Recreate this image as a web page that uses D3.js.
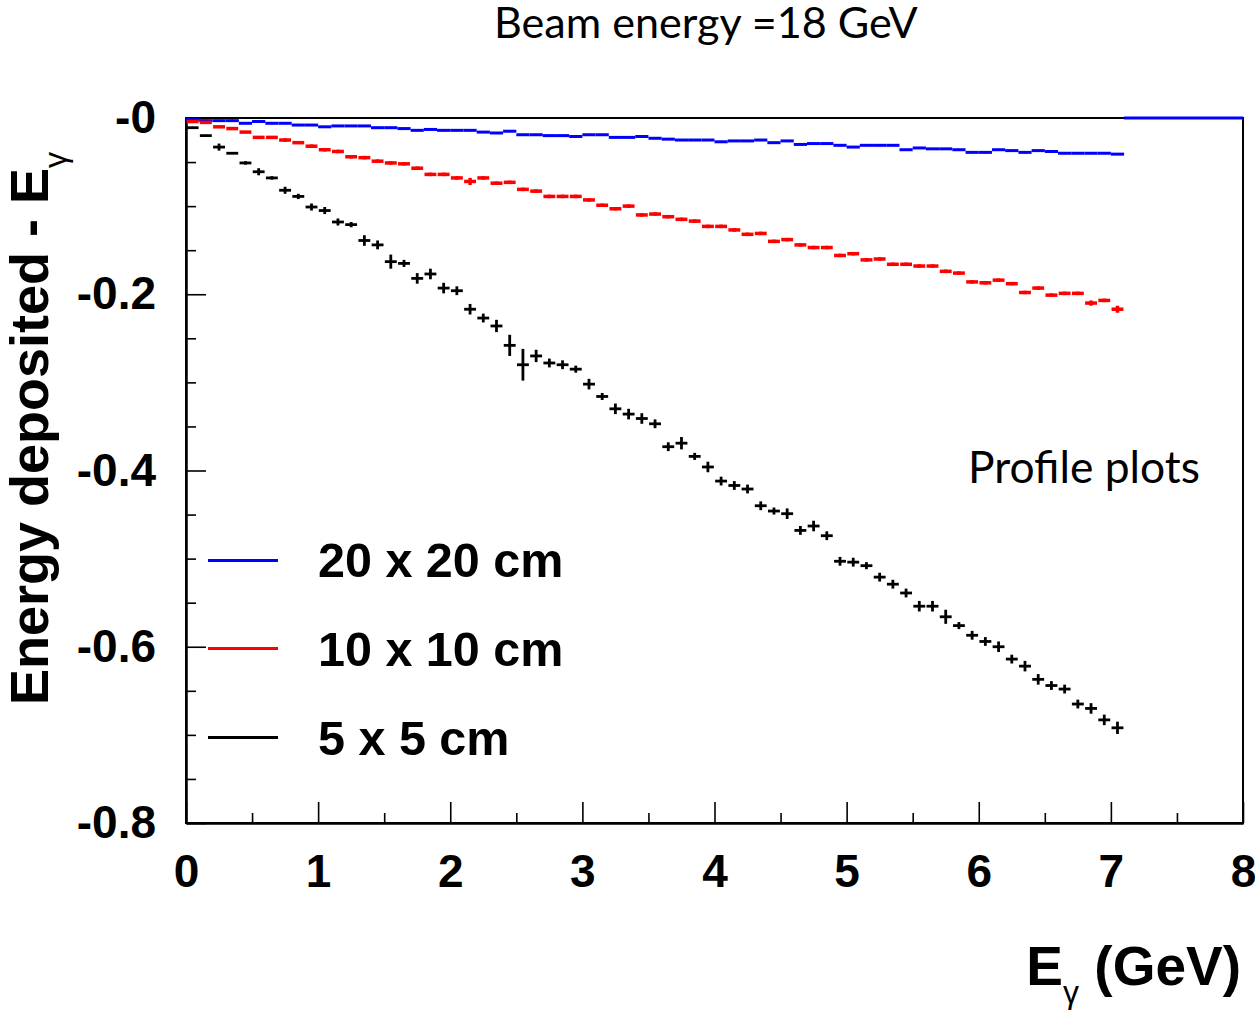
<!DOCTYPE html>
<html>
<head>
<meta charset="utf-8">
<script src="https://cdn.jsdelivr.net/npm/d3@7"></script>
<style>
  body { margin: 0; background: #fff; }
  svg { display: block; }
</style>
</head>
<body>
<div id="chart"></div>
<script>
// bin centres (GeV)
const energyBins = [0.05, 0.15, 0.25, 0.35, 0.45, 0.55, 0.65, 0.75, 0.85, 0.95,
  1.05, 1.15, 1.25, 1.35, 1.45, 1.55, 1.65, 1.75, 1.85, 1.95,
  2.05, 2.15, 2.25, 2.35, 2.45, 2.55, 2.65, 2.75, 2.85, 2.95,
  3.05, 3.15, 3.25, 3.35, 3.45, 3.55, 3.65, 3.75, 3.85, 3.95,
  4.05, 4.15, 4.25, 4.35, 4.45, 4.55, 4.65, 4.75, 4.85, 4.95,
  5.05, 5.15, 5.25, 5.35, 5.45, 5.55, 5.65, 5.75, 5.85, 5.95,
  6.05, 6.15, 6.25, 6.35, 6.45, 6.55, 6.65, 6.75, 6.85, 6.95, 7.05];

// 20 x 20 cm
const blueValues = [-0.002, -0.003, -0.003, -0.003, -0.006, -0.004, -0.006, -0.006, -0.008, -0.008,
  -0.010, -0.009, -0.009, -0.009, -0.011, -0.011, -0.012, -0.014, -0.013, -0.014,
  -0.014, -0.014, -0.016, -0.017, -0.015, -0.019, -0.019, -0.020, -0.020, -0.021,
  -0.019, -0.019, -0.022, -0.022, -0.021, -0.023, -0.024, -0.025, -0.025, -0.025,
  -0.027, -0.026, -0.026, -0.025, -0.028, -0.026, -0.030, -0.029, -0.029, -0.031,
  -0.033, -0.031, -0.031, -0.031, -0.036, -0.034, -0.035, -0.035, -0.036, -0.039,
  -0.039, -0.036, -0.037, -0.039, -0.037, -0.038, -0.040, -0.040, -0.040, -0.040, -0.041];

// 10 x 10 cm
const redValues = [-0.004, -0.005, -0.010, -0.012, -0.016, -0.022, -0.022, -0.025, -0.028, -0.032,
  -0.036, -0.038, -0.044, -0.045, -0.049, -0.051, -0.052, -0.057, -0.064, -0.064,
  -0.068, -0.072, -0.068, -0.074, -0.073, -0.081, -0.083, -0.089, -0.089, -0.089,
  -0.093, -0.099, -0.103, -0.100, -0.110, -0.109, -0.112, -0.115, -0.117, -0.123,
  -0.123, -0.127, -0.132, -0.131, -0.140, -0.138, -0.144, -0.147, -0.147, -0.156,
  -0.154, -0.161, -0.160, -0.166, -0.166, -0.168, -0.168, -0.174, -0.176, -0.186,
  -0.187, -0.184, -0.188, -0.198, -0.193, -0.201, -0.199, -0.199, -0.210, -0.207, -0.217];
const redErrors = [0.001, 0.001, 0.001, 0.001, 0.001, 0.001, 0.001, 0.002, 0.001, 0.002,
  0.002, 0.002, 0.002, 0.002, 0.002, 0.002, 0.002, 0.002, 0.002, 0.002,
  0.002, 0.004, 0.002, 0.002, 0.002, 0.002, 0.002, 0.002, 0.002, 0.002,
  0.002, 0.002, 0.002, 0.002, 0.002, 0.002, 0.002, 0.002, 0.002, 0.002,
  0.002, 0.002, 0.002, 0.002, 0.002, 0.002, 0.002, 0.002, 0.002, 0.002,
  0.002, 0.002, 0.002, 0.002, 0.002, 0.002, 0.002, 0.002, 0.002, 0.002,
  0.002, 0.002, 0.002, 0.002, 0.002, 0.002, 0.002, 0.002, 0.003, 0.002, 0.004];

// 5 x 5 cm
const blackValues = [-0.011, -0.020, -0.033, -0.040, -0.051, -0.061, -0.068, -0.082, -0.089, -0.101,
  -0.105, -0.118, -0.121, -0.139, -0.144, -0.163, -0.165, -0.182, -0.177, -0.193,
  -0.196, -0.217, -0.227, -0.236, -0.258, -0.280, -0.270, -0.278, -0.280, -0.285,
  -0.302, -0.316, -0.330, -0.336, -0.341, -0.347, -0.373, -0.369, -0.384, -0.396,
  -0.412, -0.417, -0.421, -0.440, -0.446, -0.449, -0.468, -0.463, -0.474, -0.503,
  -0.504, -0.508, -0.521, -0.529, -0.539, -0.554, -0.554, -0.566, -0.576, -0.587,
  -0.594, -0.600, -0.614, -0.622, -0.637, -0.644, -0.648, -0.665, -0.670, -0.683, -0.692];
const blackErrors = [0.001, 0.001, 0.004, 0.001, 0.002, 0.004, 0.002, 0.004, 0.003, 0.004,
  0.004, 0.004, 0.003, 0.006, 0.005, 0.008, 0.004, 0.006, 0.006, 0.006,
  0.005, 0.006, 0.005, 0.007, 0.012, 0.018, 0.007, 0.005, 0.005, 0.004,
  0.006, 0.004, 0.006, 0.006, 0.006, 0.005, 0.005, 0.007, 0.004, 0.006,
  0.005, 0.005, 0.005, 0.005, 0.004, 0.006, 0.005, 0.006, 0.005, 0.005,
  0.005, 0.004, 0.005, 0.005, 0.005, 0.006, 0.006, 0.008, 0.004, 0.005,
  0.005, 0.006, 0.005, 0.006, 0.006, 0.005, 0.005, 0.005, 0.006, 0.006, 0.007];

const legendLabels = ["20 x 20 cm", "10 x 10 cm", "5 x 5 cm"];
const xMajorTicks = [0, 1, 2, 3, 4, 5, 6, 7, 8];
const yMajorTicks = [0, -0.2, -0.4, -0.6, -0.8];

const W = 1255, H = 1011;
const BOLD = "'Liberation Sans', Arial, Helvetica, sans-serif";
const LIGHT = "Lato, 'Open Sans', sans-serif";

const svg = d3.select("#chart").append("svg")
  .attr("width", W)
  .attr("height", H);

const x = d3.scaleLinear().domain([0, 8]).range([186, 1243]);
const y = d3.scaleLinear().domain([-0.8, 0]).range([823, 118]);

// frame
svg.append("rect")
  .attr("x", x(0)).attr("y", y(0))
  .attr("width", x(8) - x(0)).attr("height", y(-0.8) - y(0))
  .attr("fill", "none").attr("stroke", "#000").attr("stroke-width", 2);

// x axis
svg.append("g").attr("transform", `translate(0,${y(-0.8)})`)
  .call(d3.axisBottom(x).tickValues(xMajorTicks).tickSize(-21).tickSizeOuter(0).tickPadding(31)
    .tickFormat(d3.format("d")));
svg.append("g").attr("transform", `translate(0,${y(-0.8)})`)
  .call(d3.axisBottom(x).tickValues(d3.range(0.5, 8, 1)).tickSize(-10).tickSizeOuter(0).tickFormat(""));

// y axis
const fmtY = d => d === 0 ? "-0" : d3.format(".1f")(d).replace("\u2212", "-");
svg.append("g").attr("transform", `translate(${x(0)},0)`)
  .call(d3.axisLeft(y).tickValues(yMajorTicks).tickSize(-20).tickSizeOuter(0).tickPadding(30)
    .tickFormat(fmtY));
svg.append("g").attr("transform", `translate(${x(0)},0)`)
  .call(d3.axisLeft(y).tickValues([-0.05, -0.1, -0.15, -0.25, -0.3, -0.35, -0.45, -0.5, -0.55, -0.65, -0.7, -0.75])
    .tickSize(-10).tickSizeOuter(0).tickFormat(""));

svg.selectAll(".domain").attr("stroke-width", 2);
svg.selectAll(".tick line").attr("stroke-width", 1.6);
svg.selectAll(".tick text")
  .attr("font-family", BOLD).attr("font-weight", "bold").attr("font-size", 46).attr("fill", "#000");

// profile points
function drawProfile(values, errors, color, halfWidth, strokeW) {
  const g = svg.append("g").attr("stroke", color).attr("stroke-width", strokeW);
  const pts = energyBins.map((e, i) => ({ e, v: values[i], err: errors ? errors[i] : 0.001 }));
  g.selectAll(".h").data(pts).join("line")
    .attr("x1", d => x(d.e - halfWidth)).attr("x2", d => x(d.e + halfWidth))
    .attr("y1", d => y(d.v)).attr("y2", d => y(d.v));
  g.selectAll(".v").data(pts).join("line")
    .attr("x1", d => x(d.e)).attr("x2", d => x(d.e))
    .attr("y1", d => y(d.v - d.err)).attr("y2", d => y(d.v + d.err));
}

drawProfile(blueValues, null, "#0000ff", 0.05, 3);
drawProfile(redValues, redErrors, "#ff0000", 0.045, 3.5);
drawProfile(blackValues, blackErrors, "#000000", 0.045, 2.8);

// empty bins of the blue histogram sit on zero
svg.append("line")
  .attr("x1", x(7.1)).attr("x2", x(8))
  .attr("y1", y(0)).attr("y2", y(0))
  .attr("stroke", "#0000ff").attr("stroke-width", 3);

// legend
const legendColors = ["#0000ff", "#ff0000", "#000000"];
const legendY = [-0.502, -0.602, -0.703];
legendLabels.forEach((lab, i) => {
  svg.append("line")
    .attr("x1", 208).attr("x2", 278)
    .attr("y1", y(legendY[i])).attr("y2", y(legendY[i]))
    .attr("stroke", legendColors[i]).attr("stroke-width", 3);
  svg.append("text")
    .attr("x", 318).attr("y", y(legendY[i]) + 17)
    .attr("font-family", BOLD).attr("font-weight", "bold").attr("font-size", 48.5)
    .text(lab);
});

// texts
function fitText(sel, width) {
  const w = sel.node().getComputedTextLength();
  const fs = +sel.attr("font-size");
  sel.attr("font-size", fs * width / w);
}

const title = svg.append("text")
  .attr("x", 494).attr("y", 38)
  .attr("font-family", LIGHT).attr("font-size", 40)
  .text("Beam energy =18 GeV");
fitText(title, 424);

const note = svg.append("text")
  .attr("x", 968).attr("y", 483)
  .attr("font-family", LIGHT).attr("font-size", 40)
  .text("Profile plots");
fitText(note, 232);

// x axis title
const xt = svg.append("text")
  .attr("x", 1241).attr("y", 985)
  .attr("text-anchor", "end")
  .attr("font-family", BOLD).attr("font-weight", "bold").attr("font-size", 55);
xt.append("tspan").text("E");
xt.append("tspan").attr("font-size", 32).attr("dy", 18).attr("font-weight", "normal").text("\u03b3");
xt.append("tspan").attr("dy", -18).text(" (GeV)");

// y axis title
const yt = svg.append("text")
  .attr("transform", "translate(48,705) rotate(-90)")
  .attr("font-family", BOLD).attr("font-weight", "bold").attr("font-size", 54);
yt.append("tspan").text("Energy deposited - E");
yt.append("tspan").attr("font-size", 32).attr("dy", 18).attr("font-weight", "normal").text("\u03b3");
</script>
</body>
</html>
